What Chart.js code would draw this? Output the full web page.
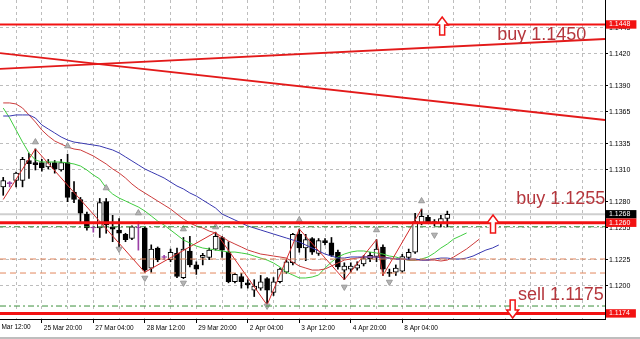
<!DOCTYPE html>
<html><head><meta charset="utf-8">
<script src="https://cdn.jsdelivr.net/npm/chart.js@4.4.1/dist/chart.umd.min.js"></script>
<style>html,body{margin:0;padding:0;background:#fff;overflow:hidden}canvas{display:block}</style>
</head><body>
<canvas id="c" width="640" height="339"></canvas>
<script>
// ---------- DATA (EURUSD H4) ----------
const categories = [
"22 Mar 20:00",
"25 Mar 00:00","25 Mar 04:00","25 Mar 08:00","25 Mar 12:00","25 Mar 16:00","25 Mar 20:00",
"26 Mar 00:00","26 Mar 04:00","26 Mar 08:00","26 Mar 12:00","26 Mar 16:00","26 Mar 20:00",
"27 Mar 00:00","27 Mar 04:00","27 Mar 08:00","27 Mar 12:00","27 Mar 16:00","27 Mar 20:00",
"28 Mar 00:00","28 Mar 04:00","28 Mar 08:00","28 Mar 12:00","28 Mar 16:00","28 Mar 20:00",
"29 Mar 00:00","29 Mar 04:00","29 Mar 08:00","29 Mar 12:00","29 Mar 16:00","29 Mar 20:00",
"1 Apr 00:00","1 Apr 04:00","1 Apr 08:00","1 Apr 12:00","1 Apr 16:00","1 Apr 20:00",
"2 Apr 00:00","2 Apr 04:00","2 Apr 08:00","2 Apr 12:00","2 Apr 16:00","2 Apr 20:00",
"3 Apr 00:00","3 Apr 04:00","3 Apr 08:00","3 Apr 12:00","3 Apr 16:00","3 Apr 20:00",
"4 Apr 00:00","4 Apr 04:00","4 Apr 08:00","4 Apr 12:00","4 Apr 16:00","4 Apr 20:00",
"5 Apr 00:00","5 Apr 04:00","5 Apr 08:00","5 Apr 12:00","5 Apr 16:00","5 Apr 20:00",
"8 Apr 00:00","8 Apr 04:00","8 Apr 08:00","8 Apr 12:00","8 Apr 16:00","8 Apr 20:00",
"9 Apr 00:00","9 Apr 04:00","9 Apr 08:00","9 Apr 12:00","9 Apr 16:00","9 Apr 20:00",
"10 Apr 00:00","10 Apr 04:00","10 Apr 08:00","10 Apr 12:00","10 Apr 16:00","10 Apr 20:00",
"11 Apr 00:00","11 Apr 04:00","11 Apr 08:00","11 Apr 12:00","11 Apr 16:00","11 Apr 20:00",
"12 Apr 00:00","12 Apr 04:00","12 Apr 08:00","12 Apr 12:00","12 Apr 16:00","12 Apr 20:00",
"15 Apr 00:00","15 Apr 04:00","15 Apr 08:00"
];
const xTickLabels = ["25 Mar 20:00","27 Mar 04:00","28 Mar 12:00","29 Mar 20:00","2 Apr 04:00","3 Apr 12:00","4 Apr 20:00","8 Apr 04:00"];
const xLeadLabel = "22 Mar 12:00";
const xLeadLabelBar = -2;

const opens  = [1.1294,1.1297,1.1300,1.1300,1.1319,1.1317,1.1317,1.1313,1.1317,1.1310,
                1.1317,1.1289,1.1282,1.1268,1.1255,1.1255,1.1280,1.1256,1.1253,1.1249,
                1.1245,1.1255,1.1255,1.1217,1.1236,1.1227,1.1225,1.1231,1.1208,1.1233,
                1.1220,1.1227,1.1227,1.1235,1.1246,1.1232,1.1204,1.1209,1.1203,1.1196,
                1.1198,1.1207,1.1194,1.1204,1.1213,1.1222,1.1249,1.1236,1.1245,1.1231,
                1.1243,1.1241,1.1232,1.1215,1.1216,1.1217,1.1221,1.1226,1.1228,1.1237,
                1.1213,1.1213,1.1214,1.1227,1.1232,1.1259,1.1265,1.1261,1.1260,1.1264];
const highs  = [1.1303,1.1299,1.1308,1.1322,1.1326,1.1330,1.1320,1.1320,1.1319,1.1320,
                1.1325,1.1299,1.1284,1.1270,1.1257,1.1283,1.1283,1.1267,1.1264,1.1250,
                1.1257,1.1261,1.1256,1.1239,1.1237,1.1229,1.1235,1.1236,1.1246,1.1247,
                1.1223,1.1231,1.1236,1.1251,1.1247,1.1242,1.1212,1.1212,1.1206,1.1206,
                1.1210,1.1208,1.1208,1.1217,1.1225,1.1250,1.1254,1.1249,1.1246,1.1245,
                1.1245,1.1246,1.1234,1.1222,1.1222,1.1223,1.1229,1.1232,1.1244,1.1239,
                1.1216,1.1220,1.1230,1.1235,1.1269,1.1273,1.1267,1.1263,1.1267,1.1271];
const lows   = [1.1286,1.1294,1.1294,1.1294,1.1302,1.1310,1.1309,1.1311,1.1307,1.1309,
                1.1280,1.1279,1.1261,1.1253,1.1251,1.1246,1.1250,1.1242,1.1237,1.1242,
                1.1244,1.1234,1.1213,1.1213,1.1223,1.1225,1.1223,1.1208,1.1207,1.1218,
                1.1211,1.1220,1.1225,1.1234,1.1227,1.1203,1.1203,1.1198,1.1198,1.1190,
                1.1196,1.1182,1.1191,1.1203,1.1212,1.1220,1.1232,1.1224,1.1230,1.1229,
                1.1239,1.1228,1.1216,1.1206,1.1213,1.1215,1.1219,1.1223,1.1223,1.1210,
                1.1209,1.1210,1.1213,1.1225,1.1231,1.1258,1.1259,1.1257,1.1256,1.1256];
const closes = [1.1300,1.1297,1.1307,1.1320,1.1316,1.1315,1.1312,1.1317,1.1311,1.1317,
                1.1284,1.1282,1.1269,1.1255,1.1255,1.1279,1.1258,1.1254,1.1250,1.1244,
                1.1256,1.1255,1.1215,1.1235,1.1225,1.1227,1.1232,1.1209,1.1235,1.1220,
                1.1216,1.1229,1.1234,1.1247,1.1234,1.1204,1.1211,1.1204,1.1201,1.1200,
                1.1204,1.1196,1.1204,1.1216,1.1223,1.1249,1.1236,1.1244,1.1232,1.1243,
                1.1241,1.1229,1.1218,1.1219,1.1219,1.1220,1.1226,1.1229,1.1235,1.1216,
                1.1212,1.1217,1.1228,1.1232,1.1261,1.1266,1.1260,1.1259,1.1264,1.1268];

// Alligator lines (jaw blue, teeth red, lips green), shifted forward
const jawBlue = [1.13612,1.13612,1.13622,1.13622,1.13622,1.13593,1.13527,1.13489,1.13451,1.13413,
                 1.13384,1.13365,1.13356,1.13346,1.13337,1.13327,1.13308,1.13290,1.13262,1.13224,
                 1.13186,1.13148,1.13110,1.13081,1.13053,1.13024,1.12986,1.12948,1.12920,1.12882,
                 1.12853,1.12815,1.12777,1.12739,1.12682,1.12654,1.12626,1.12597,1.12569,1.12550,
                 1.12531,1.12512,1.12493,1.12474,1.12455,1.12436,1.12417,1.12389,1.12360,1.12332,
                 1.12303,1.12284,1.12265,1.12265,1.12275,1.12275,1.12275,1.12275,1.12275,1.12265,
                 1.12265,1.12256,1.12256,1.12256,1.12256,1.12246,1.12246,1.12256,1.12265,1.12265,
                 1.12256,1.12256,1.12265,1.12284,1.12313,1.12341,1.12360,1.12389];
const teethRed = [1.13736,1.13736,1.13726,1.13688,1.13622,1.13555,1.13479,1.13422,1.13375,1.13346,
                  1.13318,1.13299,1.13290,1.13262,1.13233,1.13195,1.13157,1.13110,1.13072,1.13024,
                  1.12967,1.12920,1.12882,1.12844,1.12806,1.12768,1.12730,1.12682,1.12635,1.12597,
                  1.12569,1.12550,1.12521,1.12503,1.12465,1.12427,1.12398,1.12370,1.12341,1.12322,
                  1.12303,1.12294,1.12284,1.12275,1.12265,1.12227,1.12189,1.12170,1.12151,1.12151,
                  1.12161,1.12189,1.12218,1.12246,1.12256,1.12265,1.12275,1.12275,1.12275,1.12275,
                  1.12265,1.12256,1.12256,1.12246,1.12246,1.12246,1.12246,1.12246,1.12237,1.12246,
                  1.12275,1.12313,1.12351,1.12398,1.12446];
const lipsGreen = [1.13688,1.13593,1.13479,1.13365,1.13262,1.13195,1.13176,1.13176,1.13176,1.13176,
                   1.13167,1.13157,1.13138,1.13100,1.13053,1.13015,1.12929,1.12872,1.12834,1.12806,
                   1.12777,1.12749,1.12711,1.12664,1.12616,1.12578,1.12531,1.12484,1.12436,1.12408,
                   1.12379,1.12360,1.12351,1.12341,1.12332,1.12322,1.12322,1.12313,1.12303,1.12284,
                   1.12265,1.12246,1.12218,1.12180,1.12132,1.12104,1.12076,1.12076,1.12085,1.12104,
                   1.12170,1.12227,1.12275,1.12303,1.12322,1.12332,1.12332,1.12322,1.12313,1.12303,
                   1.12284,1.12275,1.12256,1.12246,1.12246,1.12256,1.12275,1.12313,1.12360,1.12398,
                   1.12446,1.12474,1.12503];

// ZigZag vertices [bar, price]
const zigzagBars   = [0, 5, 22, 33, 41, 46, 53, 58, 59, 65];
const zigzagPrices = [1.1282,1.1330,1.1213,1.1251,1.1182,1.1254,1.1206,1.1244,1.1210,1.1273];
// Fractals
const fractalUpBars   = [5, 10, 16, 21, 28, 33, 46, 58, 65];
const fractalUpPrices = [1.13365,1.13327,1.12929,1.12692,1.12540,1.12559,1.12626,1.12531,1.12806];
const fractalDnBars   = [18, 22, 28, 41, 53, 60, 67];
const fractalDnPrices = [1.12351,1.12076,1.12029,1.11811,1.11991,1.12038,1.12484];

// Horizontal levels
const redLevels    = [1.1448, 1.1260, 1.1174];
const greenLevels  = [1.12562, 1.11810];
const orangeLevels = [1.12256, 1.12123];
const bidPrice     = 1.1268;
// Trend lines: price at left edge, price at right edge
const trendUp   = [1.14058, 1.14342];
const trendDown = [1.14209, 1.13574];

// Y-axis
const yMin = 1.11687, yMax = 1.14712;
const yTickValues = [1.1445,1.1420,1.1390,1.1365,1.1335,1.1310,1.1280,1.1255,1.1225,1.1200];
const markerPrices = [1.1448, 1.1268, 1.1260, 1.1174];
const markerKinds  = ['order','bid','order','order'];

// Text notes and arrow objects (bar position, price)
const noteTexts  = ['buy 1.1450','buy 1.1255','sell 1.1175'];
const noteBars   = [76.75, 79.7, 80.0];
const notePrices = [1.14380, 1.12825, 1.11915];
const arrowBars   = [68.2, 76.1, 79.15];
const arrowPrices = [1.14551, 1.12673, 1.11696];
const arrowDirs   = ['up','up','down'];

// ---------- BUILD ----------
const N = categories.length;
const FONT = 'Liberation Sans';
Chart.defaults.font.family = FONT;

const wickData = lows.map((l,i)=>[l, highs[i]]);
const bodyData = opens.map((o,i)=>[Math.min(o,closes[i]), Math.max(o,closes[i])]);
const DOJI = '#9a3fa6';
const isDoji = i => opens[i] === closes[i];
const wickColors = opens.map((o,i)=> isDoji(i) ? DOJI : '#000');
const bodyFill = opens.map((o,i)=> isDoji(i) ? DOJI : (closes[i] > o ? '#fff' : '#000'));
const bodyBorder = opens.map((o,i)=> isDoji(i) ? DOJI : '#000');

function sparse(bars, prices){ const a = new Array(N).fill(null); bars.forEach((b,k)=>a[b]=prices[k]); return a; }
const X0 = -0.5, X1 = N - 0.5;
function hline(v, color, width, dash, order){
  return {type:'line', xAxisID:'x2', data:[{x:X0,y:v},{x:X1,y:v}], borderColor:color, borderWidth:width,
    borderDash:dash, pointRadius:0, order:order, clip:0};
}
function tline(pair, color, width){
  return {type:'line', xAxisID:'x2', data:[{x:X0,y:pair[0]},{x:X1,y:pair[1]}], borderColor:color, borderWidth:width,
    pointRadius:0, order:1, clip:0};
}
const datasets = [
  hline(bidPrice, '#cfcfcf', 2, [], 9),
  {type:'bar', data:wickData, backgroundColor:wickColors, barThickness:1, grouped:false, order:7},
  {type:'bar', data:bodyData, backgroundColor:bodyFill, borderColor:bodyBorder, borderWidth:1, borderSkipped:false,
   barThickness:5, grouped:false, minBarLength:1, order:6},
  {type:'line', data:jawBlue, borderColor:'#3838b0', borderWidth:1, pointRadius:0, order:5},
  {type:'line', data:teethRed, borderColor:'#cc3b3b', borderWidth:1, pointRadius:0, order:5},
  {type:'line', data:lipsGreen, borderColor:'#3fcc3f', borderWidth:1, pointRadius:0, order:5},
  {type:'line', data:sparse(zigzagBars, zigzagPrices), spanGaps:true, borderColor:'#d42b2b', borderWidth:1, pointRadius:0, order:4},
  {type:'line', data:sparse(fractalUpBars, fractalUpPrices), showLine:false, pointStyle:'triangle', pointRadius:3.5,
   pointBackgroundColor:'#b4b4b4', pointBorderColor:'#9a9a9a', pointBorderWidth:1, order:3},
  {type:'line', data:sparse(fractalDnBars, fractalDnPrices), showLine:false, pointStyle:'triangle', pointRadius:3.5,
   pointRotation:180, pointBackgroundColor:'#b4b4b4', pointBorderColor:'#9a9a9a', pointBorderWidth:1, order:3},
  ...orangeLevels.map(v=>hline(v, '#e2875e', 1, [6,4], 2)),
  ...greenLevels.map(v=>hline(v, '#3a8f3a', 1, [6,3,2,3], 2)),
  tline(trendUp, '#e31a1a', 1.8),
  tline(trendDown, '#e31a1a', 1.8),
  hline(redLevels[0], '#f21212', 2, [], 1),
  hline(redLevels[1], '#f21212', 3, [], 1),
  hline(redLevels[2], '#f21212', 3, [], 1),
];

const isMarker = v => markerPrices.some(m => Math.abs(m - v) < 1e-9);
const markerKind = v => markerKinds[markerPrices.findIndex(m => Math.abs(m - v) < 1e-9)];

const overlay = {
  id:'overlay',
  afterDatasetsDraw(chart){
    const {ctx} = chart; const x2 = chart.scales.x2, y = chart.scales.y;
    ctx.save();
    arrowBars.forEach((b,k)=>{
      const cx = x2.getPixelForValue(b), ty = y.getPixelForValue(arrowPrices[k]);
      const s = arrowDirs[k] === 'up' ? 1 : -1;
      ctx.beginPath();
      ctx.moveTo(cx, ty);
      ctx.lineTo(cx+6, ty+8*s); ctx.lineTo(cx+2.5, ty+8*s); ctx.lineTo(cx+2.5, ty+18*s);
      ctx.lineTo(cx-2.5, ty+18*s); ctx.lineTo(cx-2.5, ty+8*s); ctx.lineTo(cx-6, ty+8*s);
      ctx.closePath();
      ctx.fillStyle = '#fff'; ctx.fill();
      ctx.lineWidth = 1.5; ctx.strokeStyle = '#f01515'; ctx.stroke();
    });
    ctx.font = '18px "' + FONT + '"';
    ctx.fillStyle = '#b5373d'; ctx.textAlign = 'left'; ctx.textBaseline = 'middle';
    noteTexts.forEach((t,k)=> ctx.fillText(t, x2.getPixelForValue(noteBars[k]), y.getPixelForValue(notePrices[k])));
    ctx.restore();
  },
  afterDraw(chart){
    const {ctx, chartArea} = chart; const x = chart.scales.x;
    ctx.save();
    const px = x.getPixelForValue(xLeadLabelBar);
    ctx.font = '6.5px "' + FONT + '"'; ctx.fillStyle = '#000'; ctx.textAlign = 'left'; ctx.textBaseline = 'top';
    ctx.fillText(xLeadLabel, px + 2, chartArea.bottom + 5);
    ctx.strokeStyle = '#a8a8a8'; ctx.lineWidth = 1.5;
    ctx.beginPath(); ctx.moveTo(0, chart.height - 1); ctx.lineTo(chart.width, chart.height - 1); ctx.stroke();
    ctx.restore();
  }
};

new Chart(document.getElementById('c'), {
  type:'bar',
  data:{labels:categories, datasets},
  plugins:[overlay],
  options:{
    responsive:false, animation:false, devicePixelRatio:1, events:[],
    layout:{padding:0, autoPadding:false},
    plugins:{legend:{display:false}, tooltip:{enabled:false}},
    scales:{
      x:{
        type:'category', offset:true,
        grid:{offset:false, lineWidth:1, tickLength:4, tickBorderDash:[],
          color: c => (c.index % 4 === 2) ? '#bdbdbd' : 'rgba(0,0,0,0)',
          tickColor: c => xTickLabels.includes(categories[c.index]) ? '#000' : 'rgba(0,0,0,0)'},
        border:{display:true, color:'#000', width:1, dash:[3,3]},
        ticks:{autoSkip:false, maxRotation:0, minRotation:0, align:'start', padding:1, labelOffset:2,
          font:{size:6.5}, color:'#000',
          callback:(v,i)=> xTickLabels.includes(categories[i]) ? categories[i] : ''},
        afterFit: s => { s.height = 20; s.paddingLeft = 0; s.paddingRight = 0; }
      },
      x2:{type:'linear', display:false, offset:false, min:X0, max:X1, grid:{offset:false}},
      y:{
        position:'right', min:yMin, max:yMax,
        afterBuildTicks: s => { s.ticks = yTickValues.concat(markerPrices).map(v=>({value:v})); },
        afterFit: s => { s.width = 35; s.paddingTop = 0; s.paddingBottom = 0; },
        grid:{lineWidth:1, tickLength:3, tickBorderDash:[],
          color: c => isMarker(c.tick.value) ? 'rgba(0,0,0,0)' : '#bdbdbd',
          tickColor: c => isMarker(c.tick.value) ? 'rgba(0,0,0,0)' : '#000'},
        border:{display:true, color:'#000', width:1, dash:[3,3]},
        ticks:{autoSkip:false, padding:1, font:{size:7},
          color: c => isMarker(c.tick.value) ? '#fff' : '#000',
          showLabelBackdrop: c => isMarker(c.tick.value),
          backdropColor: c => markerKind(c.tick.value) === 'bid' ? '#000' : '#f21212',
          backdropPadding:{top:0, bottom:0, left:3, right:6},
          callback: v => Number(v).toFixed(4)}
      }
    }
  }
});
</script>
</body></html>
